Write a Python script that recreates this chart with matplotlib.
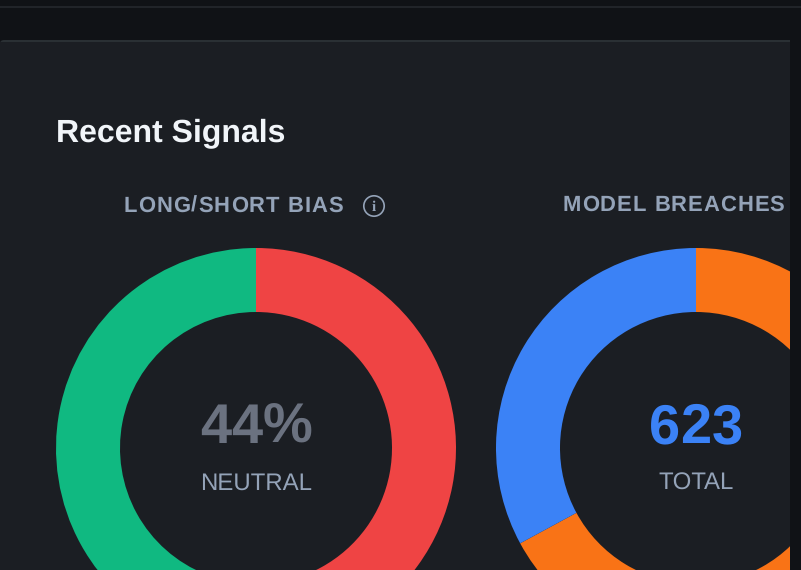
"""Recent Signals panel: two donut gauges on a dark card."""

import matplotlib

matplotlib.use("Agg")

import matplotlib.pyplot as plt
from matplotlib.font_manager import FontProperties, findfont, get_font
from matplotlib.ft2font import LoadFlags
from matplotlib.patches import Circle, FancyBboxPatch, Rectangle

W, H = 801, 570

BIAS_LABELS = ["Short", "Long"]
BIAS_VALUES = [56, 44]
BIAS_COLORS = ["#ef4444", "#10b981"]

BREACH_LABELS = ["Other", "Flagged"]
BREACH_VALUES = [418, 205]
BREACH_COLORS = ["#f97316", "#3b82f6"]

PAGE_BG = "#101216"
CARD_BG = "#1b1e23"

plt.rcParams["font.family"] = ["Liberation Sans", "DejaVu Sans"]
plt.rcParams["text.hinting"] = "no_hinting"
plt.rcParams["text.hinting_factor"] = 1


def py(y):
    # layout below is measured from the top edge
    return H - y


def spaced_text(ax, x, y, s, px, spacing, color, center=False):
    """Bold text set glyph by glyph, so no kerning and optional letter spacing."""
    prop = FontProperties(family="Liberation Sans", weight="bold", size=px * 0.72)
    font = get_font(findfont(prop))
    font.set_size(px * 0.72, 100)
    advances = [
        font.load_char(ord(ch), flags=LoadFlags.NO_HINTING).linearHoriAdvance / 65536 + spacing
        for ch in s
    ]
    if center:
        x -= sum(advances) / 2
    for ch, adv in zip(s, advances):
        ax.text(x, py(y), ch, fontproperties=prop, color=color, ha="left", va="baseline")
        x += adv


def donut(ax, cx, cy, values, colors):
    ax.pie(
        values,
        colors=colors,
        center=(cx, py(cy)),
        radius=200,
        startangle=90,
        counterclock=False,
        frame=True,
        wedgeprops={"width": 64, "linewidth": 0},
    )


fig = plt.figure(figsize=(W / 100, H / 100), dpi=100, facecolor=PAGE_BG)
ax = fig.add_axes([0, 0, 1, 1])

# top bar hairline
ax.add_patch(Rectangle((0, py(8)), W, 2, fc="#212429", ec="none"))

# card with its lighter top border, rounded corner only at top left
ax.add_patch(FancyBboxPatch((0, py(600)), 830, 560, boxstyle="round,pad=0,rounding_size=4",
                            fc="#2a3034", ec="none"))
ax.add_patch(Rectangle((0, py(600)), 830, 558, fc=CARD_BG, ec="none"))

donut(ax, 256, 448, BIAS_VALUES, BIAS_COLORS)
donut(ax, 696, 448, BREACH_VALUES, BREACH_COLORS)

# page background past the card's right edge, hides the overflowing ring
ax.add_patch(Rectangle((790, 0), 11, py(40), fc=PAGE_BG, ec="none", zorder=5))

ax.set_xlim(0, W)
ax.set_ylim(0, H)
ax.set_aspect("auto")
ax.axis("off")

ax.text(56.5, py(141), "Recent Signals", fontsize=23, fontweight="bold", color="#f1f5f9",
        ha="left", va="baseline")

spaced_text(ax, 123.5, 212, "LONG/SHORT BIAS", 22, 1, "#94a3b8")
spaced_text(ax, 562.5, 211, "MODEL BREACHES", 22, 1, "#94a3b8")

# info icon beside the first heading
ax.add_patch(Circle((374, py(206)), 10.2, fc="none", ec="#94a3b8", lw=1.2))
ax.text(374, py(211), "i", fontsize=10.5, fontweight="bold", family="Liberation Serif",
        color="#94a3b8", ha="center", va="baseline")

spaced_text(ax, 256, 443, f"{BIAS_VALUES[1]}%", 56, 0, "#6b7280", center=True)
ax.text(256, py(490), "NEUTRAL", fontsize=17.3, color="#94a3b8", ha="center", va="baseline")

spaced_text(ax, 696, 443, f"{sum(BREACH_VALUES)}", 56, 0, "#3b82f6", center=True)
ax.text(696, py(490), "TOTAL", fontsize=17.3, color="#94a3b8", ha="center", va="baseline")

fig.savefig("out.png", dpi=100, facecolor=fig.get_facecolor())
